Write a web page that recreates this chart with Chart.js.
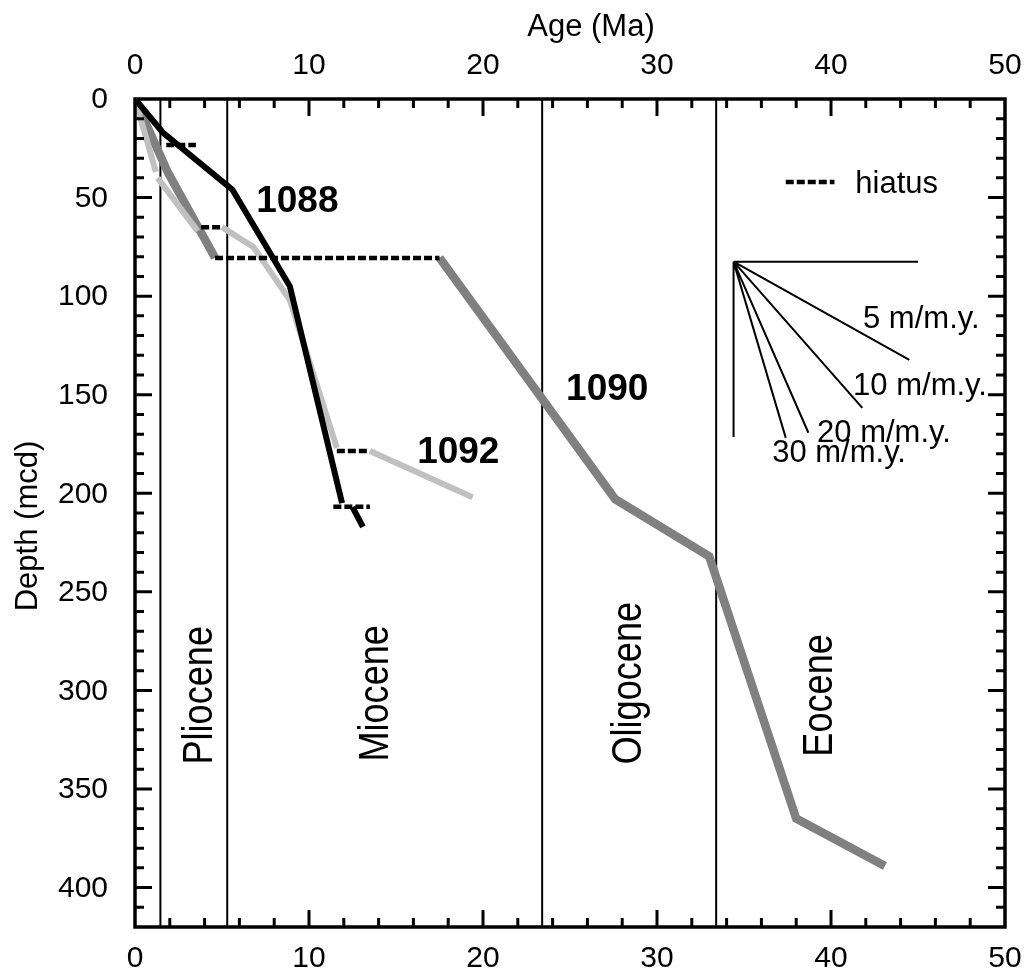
<!DOCTYPE html>
<html>
<head>
<meta charset="utf-8">
<script src="https://cdn.jsdelivr.net/npm/chart.js@4/dist/chart.umd.min.js"></script>
<style>
  html, body { margin: 0; padding: 0; background: #fff; }
  #wrap { width: 1032px; height: 977px; }
</style>
</head>
<body>
<div id="wrap"><canvas id="chart"></canvas></div>
<script>
// --- data: age (Ma) vs depth (mcd); null = break in the line ---
const site1088Age   = [0, 1.6, 5.6, 8.9, 11.9, null, 12.5, 13.1];
const site1088Depth = [0, 17, 46, 95, 205, null, 207, 217];

const site1090Age   = [0, 1.9, 4.6, null, 17.5, 27.6, 33.0, 38.0, 43.1];
const site1090Depth = [0, 37.5, 80.5, null, 80.5, 203, 232, 365, 389];

const site1092Age   = [0, 1.2, null, 1.3, 3.6, null, 5.0, 6.8, 8.9, 11.6, null, 13.5, 19.4];
const site1092Depth = [0, 37, null, 40, 67, null, 65, 75, 102, 177, null, 178.5, 202];

// hiatus segments (dashed)
const hiatusFrom  = [1.8, 3.8, 4.6, 11.6, 11.4];
const hiatusTo    = [3.5, 5.0, 17.5, 13.5, 13.5];
const hiatusDepth = [23.3, 65, 80.6, 178.5, 206.8];

// epoch boundaries (Ma)
const epochBounds = [1.46, 5.3, 23.4, 33.4];
const epochNames  = ['Pliocene', 'Miocene', 'Oligocene', 'Eocene'];

// sedimentation-rate key: common origin + end points
const rateOrigin = [34.4, 82.5];
const rateNames  = ['', '', '5 m/m.y.', '10 m/m.y.', '20 m/m.y.', '30 m/m.y.'];
const rateEndAge   = [45.0, 34.4, 44.5, 41.8, 38.7, 37.4];
const rateEndDepth = [82.5, 171.5, 132.3, 156.7, 169.3, 171.9];

// axes
const xTickLabels = [0, 10, 20, 30, 40, 50];
const yTickLabels = [0, 50, 100, 150, 200, 250, 300, 350, 400];

// --- label placement (data units) ---
const siteLabels = [
  { text: '1088', x: 9.33, y: 52.2 },
  { text: '1092', x: 18.58, y: 179.5 },
  { text: '1090', x: 27.14, y: 147.5 }
];
const epochLabelPos = [[4.45, 337.6], [14.56, 336.1], [29.1, 337.6], [40.06, 333.6]];
const rateLabelPos  = [null, null, [41.84, 116.1], [41.27, 150.1], [39.2, 173.9], [36.62, 184.0]];
const legendPos = { from: 37.4, to: 40.2, y: 42.1, textX: 41.4, textY: 47.7 };

const FONT = '"Liberation Sans", Arial, Helvetica, sans-serif';

function toPoints(xs, ys) {
  return xs.map((v, i) => (v === null || ys[i] === null) ? { x: null, y: null } : { x: v, y: ys[i] });
}

function lineSet(points, color, width, order, dash) {
  return {
    data: points, showLine: true, borderColor: color, borderWidth: width,
    pointRadius: 0, spanGaps: false, order: order, borderDash: dash || [],
    borderCapStyle: 'butt', borderJoinStyle: 'miter', fill: false
  };
}

// hiatus segments, epoch lines, rate lines -> point lists with null separators
const hiatusPts = [];
hiatusFrom.forEach((a, i) => {
  hiatusPts.push({ x: a, y: hiatusDepth[i] }, { x: hiatusTo[i], y: hiatusDepth[i] }, { x: null, y: null });
});
const epochPts = [];
epochBounds.forEach(b => epochPts.push({ x: b, y: 0 }, { x: b, y: 420 }, { x: null, y: null }));
const ratePts = [];
rateEndAge.forEach((a, i) => {
  ratePts.push({ x: rateOrigin[0], y: rateOrigin[1] }, { x: a, y: rateEndDepth[i] }, { x: null, y: null });
});
const legendPts = [{ x: legendPos.from, y: legendPos.y }, { x: legendPos.to, y: legendPos.y }];

const decor = {
  id: 'decor',
  afterDraw(chart) {
    const { ctx, chartArea: a, scales: { x, y } } = chart;
    ctx.save();
    ctx.strokeStyle = '#000';
    ctx.fillStyle = '#000';

    // frame
    ctx.lineWidth = 3.5;
    ctx.strokeRect(a.left, a.top, a.right - a.left, a.bottom - a.top);

    // inward ticks
    ctx.lineWidth = 3;
    ctx.beginPath();
    for (let v = 2; v < 50; v += 2) {
      const px = x.getPixelForValue(v);
      const len = v % 10 === 0 ? 17 : 9;
      ctx.moveTo(px, a.top); ctx.lineTo(px, a.top + len);
      ctx.moveTo(px, a.bottom); ctx.lineTo(px, a.bottom - len);
    }
    for (let v = 10; v < 420; v += 10) {
      const py = y.getPixelForValue(v);
      const len = v % 50 === 0 ? 17 : 9;
      ctx.moveTo(a.left, py); ctx.lineTo(a.left + len, py);
      ctx.moveTo(a.right, py); ctx.lineTo(a.right - len, py);
    }
    ctx.stroke();

    // tick labels
    ctx.font = '30px ' + FONT;
    ctx.textBaseline = 'middle';
    ctx.textAlign = 'center';
    xTickLabels.forEach(v => {
      const px = x.getPixelForValue(v);
      ctx.fillText(String(v), px, a.top - 33);
      ctx.fillText(String(v), px, a.bottom + 32);
    });
    ctx.textAlign = 'right';
    yTickLabels.forEach(v => ctx.fillText(String(v), a.left - 27, y.getPixelForValue(v) + 1));

    // axis titles
    ctx.font = '31px ' + FONT;
    ctx.textAlign = 'center';
    ctx.fillText('Age (Ma)', 591, 27);
    ctx.save();
    ctx.translate(28, 526);
    ctx.rotate(-Math.PI / 2);
    ctx.fillText('Depth (mcd)', 0, 0);
    ctx.restore();

    // site labels
    ctx.font = 'bold 37px ' + FONT;
    siteLabels.forEach(l => ctx.fillText(l.text, x.getPixelForValue(l.x), y.getPixelForValue(l.y)));

    // epoch labels (vertical)
    ctx.font = '42px ' + FONT;
    ctx.textAlign = 'left';
    ctx.textBaseline = 'alphabetic';
    epochNames.forEach((name, i) => {
      ctx.save();
      ctx.translate(x.getPixelForValue(epochLabelPos[i][0]), y.getPixelForValue(epochLabelPos[i][1]));
      ctx.rotate(-Math.PI / 2);
      ctx.scale(0.86, 1);
      ctx.fillText(name, 0, 0);
      ctx.restore();
    });

    // rate labels and legend text
    ctx.font = '31px ' + FONT;
    rateNames.forEach((name, i) => {
      if (!name) return;
      ctx.fillText(name, x.getPixelForValue(rateLabelPos[i][0]), y.getPixelForValue(rateLabelPos[i][1]));
    });
    ctx.fillText('hiatus', x.getPixelForValue(legendPos.textX), y.getPixelForValue(legendPos.textY));
    ctx.restore();
  }
};

new Chart(document.getElementById('chart'), {
  type: 'scatter',
  data: {
    datasets: [
      lineSet(toPoints(site1088Age, site1088Depth), '#000000', 6, 1),
      lineSet(hiatusPts, '#000000', 4.5, 2, [8, 3]),
      lineSet(legendPts, '#000000', 4.5, 2, [8, 3]),
      lineSet(toPoints(site1092Age, site1092Depth), '#c0c0c0', 6, 3),
      lineSet(toPoints(site1090Age, site1090Depth), '#808080', 8.5, 4),
      lineSet(ratePts, '#000000', 2, 5),
      lineSet(epochPts, '#000000', 2, 6)
    ]
  },
  options: {
    responsive: true,
    maintainAspectRatio: false,
    animation: false,
    events: [],
    layout: { padding: { left: 135, top: 99, right: 27, bottom: 50 } },
    plugins: { legend: { display: false }, tooltip: { enabled: false } },
    scales: {
      x: { type: 'linear', min: 0, max: 50, display: false },
      y: { type: 'linear', min: 0, max: 420, reverse: true, display: false }
    }
  },
  plugins: [decor]
});
</script>
</body>
</html>
